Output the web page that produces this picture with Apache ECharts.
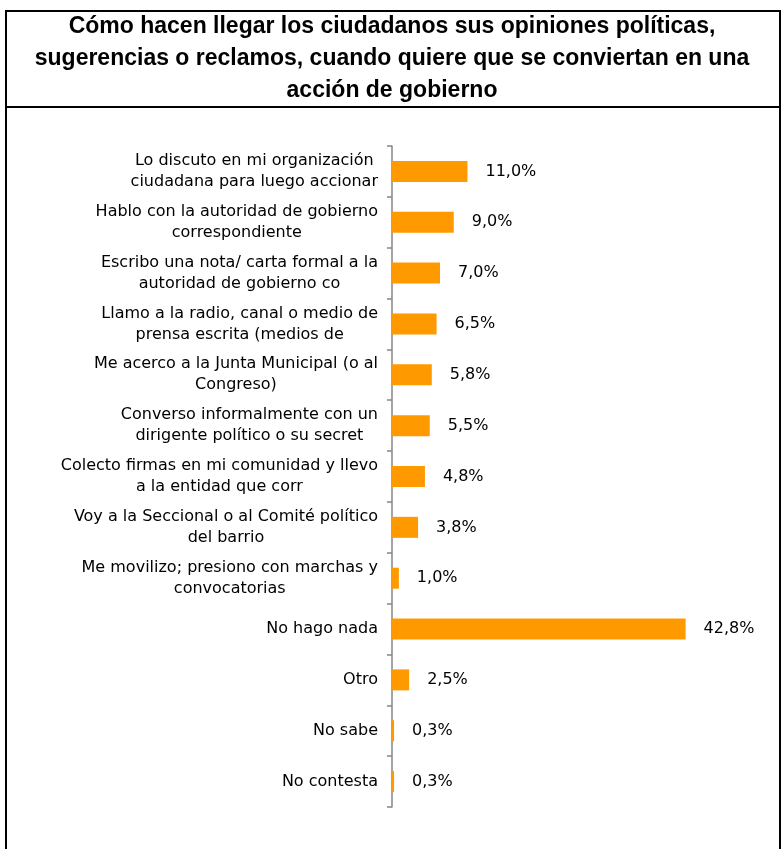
<!DOCTYPE html>
<html>
<head>
<meta charset="utf-8">
<script src="https://cdn.jsdelivr.net/npm/echarts@6/dist/echarts.min.js"></script>
<style>html,body{margin:0;padding:0;background:#fff}#c{width:784px;height:849px}</style>
</head>
<body>
<div id="c"></div>
<script>
const titleText = 'Cómo hacen llegar los ciudadanos sus opiniones políticas,\nsugerencias o reclamos, cuando quiere que se conviertan en una\nacción de gobierno';
const categories = [
  'Lo discuto en mi organización\nciudadana para luego accionar',
  'Hablo con la autoridad de gobierno\ncorrespondiente',
  'Escribo una nota/ carta formal a la\nautoridad de gobierno co',
  'Llamo a la radio, canal o medio de\nprensa escrita (medios de',
  'Me acerco a la Junta Municipal (o al\nCongreso)',
  'Converso informalmente con un\ndirigente político o su secret',
  'Colecto firmas en mi comunidad y llevo\na la entidad que corr',
  'Voy a la Seccional o al Comité político\ndel barrio',
  'Me movilizo; presiono con marchas y\nconvocatorias',
  'No hago nada',
  'Otro',
  'No sabe',
  'No contesta'
];
const values = [11.0, 9.0, 7.0, 6.5, 5.8, 5.5, 4.8, 3.8, 1.0, 42.8, 2.5, 0.3, 0.3];

const chart = echarts.init(document.getElementById('c'), null, {renderer: 'canvas'});
const titleFont = '"Liberation Sans", Arial, sans-serif';
const font = '"DejaVu Sans", sans-serif';
chart.setOption({
  animation: false,
  backgroundColor: '#fff',
  title: {
    text: titleText,
    left: 'center',
    top: 6,
    textStyle: {fontFamily: titleFont, fontSize: 23, fontWeight: 'bold', color: '#000', lineHeight: 32}
  },
  graphic: [
    {type: 'rect', shape: {x: 6, y: 11, width: 774, height: 860}, style: {fill: 'none', stroke: '#000', lineWidth: 2}, silent: true},
    {type: 'line', shape: {x1: 6, y1: 107, x2: 780, y2: 107}, style: {stroke: '#000', lineWidth: 2}, silent: true}
  ],
  grid: {left: 392, top: 146, bottom: 42, width: 343, containLabel: false},
  xAxis: {
    type: 'value', min: 0, max: 50, show: false
  },
  yAxis: {
    type: 'category',
    inverse: true,
    data: categories,
    axisLine: {show: true, lineStyle: {color: '#868686', width: 1.5}},
    axisTick: {show: true, length: 5, lineStyle: {color: '#868686', width: 1.5}},
    axisLabel: {
      margin: 14,
      fontFamily: font,
      fontSize: 16,
      color: '#000',
      lineHeight: 21,
      formatter: function (v) {
        return v.split('\n').map(function (s) { return '{c|' + s + '}'; }).join('\n');
      },
      rich: {c: {align: 'center', fontFamily: font, fontSize: 16, color: '#000', lineHeight: 21}}
    }
  },
  series: [{
    type: 'bar',
    data: values,
    barWidth: 21,
    itemStyle: {color: '#FF9900'},
    label: {
      show: true,
      position: 'right',
      distance: 18,
      fontFamily: font,
      fontSize: 16,
      color: '#000',
      formatter: function (p) { return p.value.toFixed(1).replace('.', ',') + '%'; }
    }
  }]
});
</script>
</body>
</html>
